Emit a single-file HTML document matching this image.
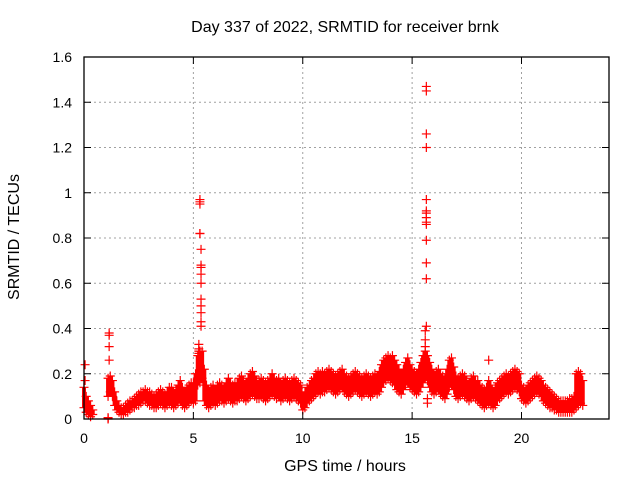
<!DOCTYPE html>
<html><head><meta charset="utf-8"><style>
body{margin:0;background:#fff}
svg{display:block;font-family:"Liberation Sans",sans-serif}
</style></head><body>
<svg id="chart" width="640" height="480" xmlns="http://www.w3.org/2000/svg">
<rect width="640" height="480" fill="#fff"/>
<text x="345" y="32" font-size="16" text-anchor="middle">Day 337 of 2022, SRMTID for receiver brnk</text>
<text x="345" y="471" font-size="16" text-anchor="middle">GPS time / hours</text>
<text transform="translate(19,237) rotate(-90)" font-size="16" text-anchor="middle">SRMTID / TECUs</text>
<g id="grid"></g><g id="marks"></g><g id="axes"></g>
</svg>
<script>
const xTicks=[0,5,10,15,20];
const yTicks=[0,0.2,0.4,0.6,0.8,1,1.2,1.4,1.6];
const yTickLabels=["0","0.2","0.4","0.6","0.8","1","1.2","1.4","1.6"];
const startHour=0, stepHour=0.1;
const lo=[.05,.03,.02,.01,.02,null,null,null,null,null,
null,.10,.12,.10,.06,.04,.03,.02,.02,.03,
.03,.04,.05,.05,.06,.06,.07,.08,.08,.07,
.06,.06,.05,.05,.06,.07,.06,.05,.06,.07,
.06,.05,.06,.07,.08,.06,.05,.06,.07,.08,
.07,.08,.15,.16,.18,.08,.06,.05,.06,.07,
.06,.07,.08,.08,.07,.08,.09,.08,.07,.08,
.08,.09,.10,.09,.08,.09,.10,.11,.10,.09,
.09,.10,.09,.08,.09,.10,.11,.10,.09,.10,
.08,.09,.10,.09,.08,.09,.10,.09,.08,.07,
.04,.05,.07,.08,.09,.10,.11,.12,.11,.12,
.12,.13,.14,.13,.12,.11,.12,.13,.14,.12,
.11,.10,.11,.12,.13,.12,.11,.10,.11,.12,
.11,.10,.11,.12,.11,.12,.14,.16,.17,.18,
.17,.16,.15,.13,.12,.11,.13,.15,.16,.14,
.13,.12,.11,.12,.14,.16,.18,.17,.14,.12,
.11,.12,.13,.11,.10,.09,.11,.14,.15,.13,
.10,.09,.10,.11,.10,.09,.08,.09,.10,.09,
.08,.07,.06,.05,.06,.07,.06,.05,.06,.08,
.09,.10,.11,.12,.11,.12,.13,.14,.13,.12,
.09,.08,.07,.08,.09,.10,.11,.12,.11,.10,
.08,.07,.06,.05,.05,.04,.04,.03,.03,.03,
.03,.03,.03,.03,.04,.05,.06,.07,.06];
const hi=[.14,.10,.08,.06,.04,null,null,null,null,null,
null,.18,.19,.17,.12,.08,.06,.05,.05,.06,
.07,.08,.08,.09,.10,.11,.12,.12,.13,.12,
.12,.11,.10,.11,.12,.13,.12,.11,.12,.14,
.14,.12,.13,.15,.17,.14,.12,.14,.15,.16,
.16,.20,.28,.30,.30,.22,.15,.13,.14,.15,
.13,.15,.16,.15,.14,.16,.18,.16,.15,.16,
.16,.18,.19,.17,.16,.18,.20,.21,.19,.17,
.17,.18,.17,.16,.17,.18,.20,.18,.17,.18,
.16,.17,.18,.17,.16,.17,.18,.17,.16,.15,
.10,.12,.14,.15,.17,.18,.20,.21,.20,.21,
.20,.21,.22,.21,.20,.19,.20,.21,.22,.20,
.19,.18,.19,.20,.21,.20,.19,.18,.19,.20,
.19,.18,.19,.20,.19,.21,.24,.26,.27,.28,
.27,.28,.26,.24,.22,.20,.22,.25,.27,.24,
.22,.21,.20,.22,.25,.28,.30,.28,.25,.22,
.20,.21,.22,.20,.19,.18,.22,.26,.27,.23,
.19,.18,.19,.20,.19,.17,.16,.18,.19,.17,
.17,.15,.14,.13,.14,.17,.15,.12,.14,.16,
.17,.18,.19,.20,.19,.20,.21,.22,.21,.20,
.15,.14,.13,.15,.16,.17,.18,.19,.18,.17,
.15,.14,.13,.12,.11,.10,.09,.08,.08,.08,
.08,.08,.09,.09,.10,.20,.21,.20,.17];
const spikeT=[0.05,0.05,1.15,1.15,1.15,1.15,1.1,1.1,1.1,5.3,5.3,5.3,5.3,5.3,5.35,5.35,5.35,5.35,5.35,5.35,5.35,5.35,5.35,5.35,5.25,5.25,5.25,5.25,15.65,15.65,15.65,15.65,15.65,15.65,15.65,15.65,15.65,15.65,15.65,15.65,15.65,15.65,15.6,15.6,15.6,18.5,15.7,15.7];
const spikeV=[0.24,0.17,0.38,0.37,0.32,0.26,0,0.003,0.006,0.97,0.96,0.95,0.82,0.82,0.75,0.68,0.67,0.64,0.60,0.53,0.50,0.47,0.43,0.41,0.33,0.31,0.30,0.29,1.47,1.45,1.26,1.20,0.97,0.92,0.91,0.89,0.87,0.86,0.79,0.69,0.62,0.41,0.39,0.35,0.32,0.26,0.09,0.07];

const X0=84,X1=609,Y0=419,Y1=57,XMAX=24,YMAX=1.6;
const xs=h=>X0+h/XMAX*(X1-X0);
const ys=v=>Y0-v/YMAX*(Y0-Y1);
const NS="http://www.w3.org/2000/svg";
function mk(tag,attrs,parent){const e=document.createElementNS(NS,tag);for(const k in attrs)e.setAttribute(k,attrs[k]);parent.appendChild(e);return e;}
const grid=document.getElementById('grid'),marks=document.getElementById('marks'),axes=document.getElementById('axes');

yTicks.forEach((v,i)=>{
  const y=ys(v);
  if(i>0&&i<yTicks.length-1){const g=mk('line',{x1:X0,x2:X1,y1:y,y2:y,stroke:'#a0a0a0','stroke-dasharray':'2,3'},grid);
  
  }
  mk('line',{x1:X0,x2:X0+7,y1:y,y2:y,stroke:'#000'},axes);
  mk('line',{x1:X1,x2:X1-7,y1:y,y2:y,stroke:'#000'},axes);
  const t=mk('text',{x:X0-12,y:y+5,'font-size':14,'text-anchor':'end'},axes);
  t.textContent=yTickLabels[i];
  
  
});
xTicks.forEach(h=>{
  const x=xs(h);
  if(h>0){const g=mk('line',{x1:x,x2:x,y1:Y0,y2:Y1,stroke:'#a0a0a0','stroke-dasharray':'2,3'},grid);
  
  }
  mk('line',{x1:x,x2:x,y1:Y0,y2:Y0-7,stroke:'#000'},axes);
  mk('line',{x1:x,x2:x,y1:Y1,y2:Y1+7,stroke:'#000'},axes);
  const t=mk('text',{x:x,y:Y0+24,'font-size':14,'text-anchor':'middle'},axes);
  t.textContent=String(h);
  
  
});
const frame=mk('rect',{x:X0,y:Y1,width:X1-X0,height:Y0-Y1,fill:'none',stroke:'#000','stroke-width':1.3},axes);



function cross(h,v){
  const x=xs(h),y=ys(v);
  const p=mk('path',{d:`M${x-4.5},${y}h9M${x},${y-4.5}v9`,stroke:'#f00','stroke-width':1.2,fill:'none'},marks);
  
  
}
lo.forEach((v,i)=>{
  if(v===null||hi[i]===null)return;
  const h=startHour+i*stepHour;
  const b=mk('line',{x1:xs(h),x2:xs(h),y1:ys(v),y2:ys(hi[i]),stroke:'#f00','stroke-width':4},marks);
  
  
  cross(h,v);cross(h,hi[i]);
});
spikeT.forEach((h,i)=>cross(h,spikeV[i]));
</script>
</body></html>
